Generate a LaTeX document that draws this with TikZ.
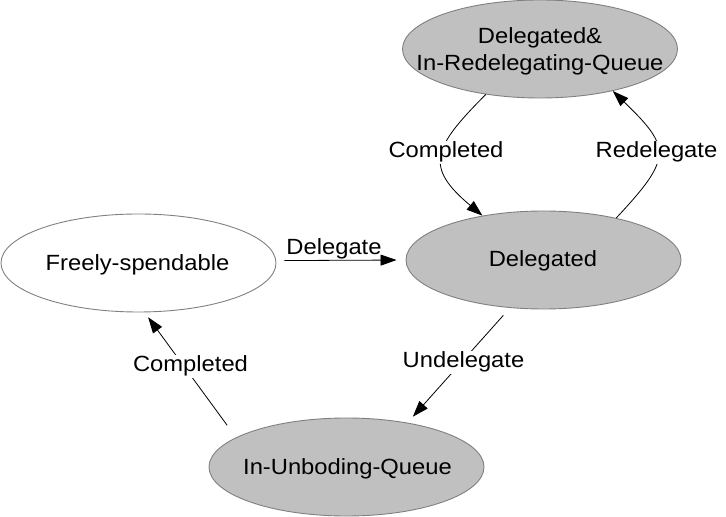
\documentclass[tikz,border=0pt]{standalone}
\usepackage{fontspec}
\setmainfont{Liberation Sans}[FakeStretch=1.08]
\usetikzlibrary{arrows.meta,shapes.geometric}
\definecolor{stfill}{HTML}{C0C0C0}
\definecolor{stdraw}{HTML}{808080}
\begin{document}
\begin{tikzpicture}[x=1pt,y=1pt,
  state/.style={ellipse, draw=stdraw, line width=0.9pt, minimum width=275pt, minimum height=98pt, inner sep=0pt},
  grey/.style={fill=stfill},
  white/.style={fill=white},
  txt/.style={font=\fontsize{22}{27}\selectfont, inner sep=0pt},
  lbl/.style={font=\fontsize{22}{27}\selectfont, fill=white, inner sep=1pt, anchor=base},
  edge/.style={draw=black, line width=0.8pt, -{Triangle[length=16pt,width=11pt]}}]
\useasboundingbox (0,0) rectangle (726,517);
% states
\node[state, grey]  (T) at (540,468) {};
\node[state, grey]  (D) at (543.5,257) {};
\node[state, white] (F) at (138.5,254) {};
\node[state, grey]  (U) at (346.5,50) {};
% state texts
\node[txt, align=center] (Tt) at (540,466) {Delegated\&\\In-Redelegating-Queue};
\node[txt, anchor=base] (Dt) at (543,250) {Delegated};
\node[txt, anchor=base] (Ft) at (137.5,246) {Freely-spendable};
\node[txt, anchor=base] (Ut) at (347.5,42) {In-Unboding-Queue};
% connectors
\draw[edge] (T.220) to[out=225,in=140,looseness=1.6] (D.144);
\draw[edge] (D.30) to[out=47,in=316,looseness=1.65] (T.330);
\draw[edge, shorten <=8pt, shorten >=9pt] (F.1.25) -- (D.west);
\draw[edge, shorten <=10pt, shorten >=8pt] (D.235) -- (U.36);
\draw[edge, shorten <=15pt, shorten >=6pt] (U.165) -- (F.-83);
% connector labels
\node[lbl] (l1) at (446,359) {Completed};
\node[lbl] (l2) at (656.5,359) {Redelegate};
\node[lbl, fill=none] (l3) at (334,262) {Delegate};
\node[lbl] (l4) at (463.5,149) {Undelegate};
\node[lbl] (l5) at (190.5,145) {Completed};
\end{tikzpicture}
\end{document}
